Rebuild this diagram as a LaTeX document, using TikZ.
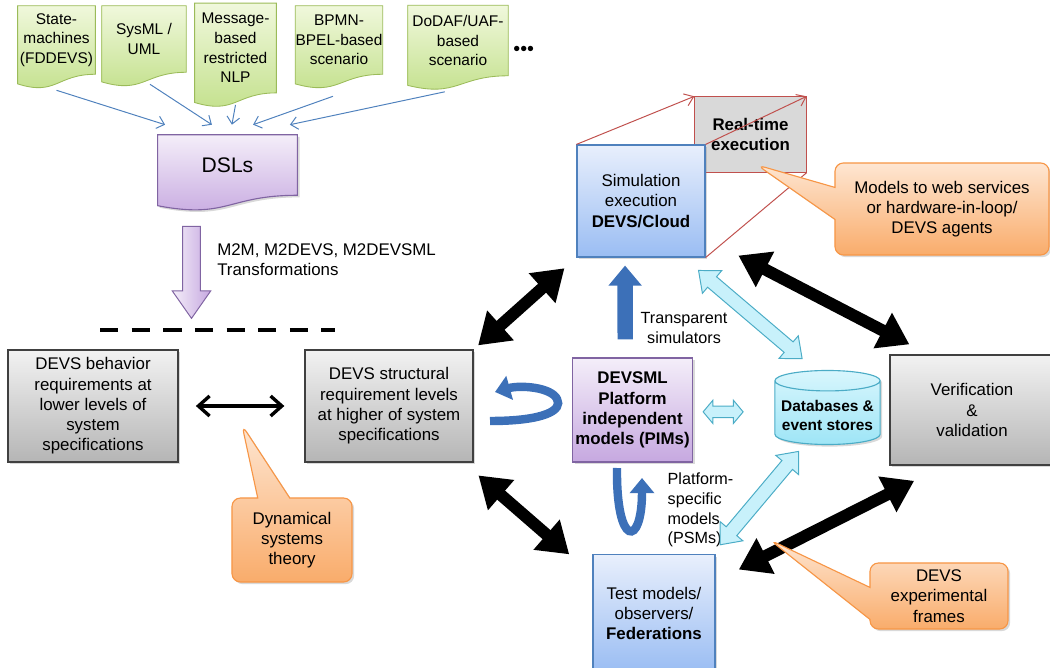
\documentclass[tikz,border=0pt]{standalone}
\usepackage{fontspec}
\setmainfont{Liberation Sans}
\usetikzlibrary{positioning,arrows.meta,shapes.geometric,shapes.arrows,shapes.callouts,shadows,backgrounds}

\definecolor{greenline}{HTML}{9BBB59}
\definecolor{greentop}{HTML}{F0F8DC}
\definecolor{greenbot}{HTML}{C2E08A}
\definecolor{purpleline}{HTML}{8064A2}
\definecolor{purpletop}{HTML}{F4EEF9}
\definecolor{purplebot}{HTML}{C6A8E0}
\definecolor{blueline}{HTML}{4F81BD}
\definecolor{bluetop}{HTML}{E8EFFC}
\definecolor{bluebot}{HTML}{9ABDF3}
\definecolor{greytop}{HTML}{F2F2F2}
\definecolor{greybot}{HTML}{B5B5B5}
\definecolor{rtgrey}{HTML}{D9D9D9}
\definecolor{orangeline}{HTML}{F79646}
\definecolor{orangetop}{HTML}{FEE6D2}
\definecolor{orangebot}{HTML}{F9AC6B}
\definecolor{cyanline}{HTML}{4BACC6}
\definecolor{cyanfill}{HTML}{C8F1FB}
\definecolor{cyantop}{HTML}{D8F6FD}
\definecolor{cyanbot}{HTML}{9EE5F6}
\definecolor{arrowblue}{HTML}{3C70B8}
\definecolor{redline}{HTML}{C0504D}

\tikzset{txt/.style={font=\fontsize{12}{14.4}\selectfont, align=center, inner sep=2pt},
	 smalltxt/.style={font=\fontsize{11.5}{14}\selectfont, align=center, inner sep=1pt},
	 softshadow/.style={drop shadow={opacity=0.3, shadow xshift=1.5pt, shadow yshift=-1.5pt}},
	 docbox/.style={font=\fontsize{11}{14}\selectfont, align=center, inner sep=0pt},
	 greenpage/.style={draw=greenline, line width=0.6pt, top color=greentop, bottom color=greenbot},
	 purplepage/.style={draw=purpleline, line width=0.8pt, top color=purpletop, bottom color=purplebot, softshadow},
	 greybox/.style={txt, draw=black!75, line width=0.9pt, top color=greytop, bottom color=greybot, softshadow},
	 bluebox/.style={txt, draw=blueline, line width=0.8pt, top color=bluetop, bottom color=bluebot, softshadow},
	 pimbox/.style={txt, font=\fontsize{12}{14.4}\selectfont\bfseries, draw=purpleline, line width=0.8pt, top color=purpletop, bottom color=purplebot, softshadow},
	 rtbox/.style={txt, font=\fontsize{12}{14.4}\selectfont\bfseries, draw=redline, line width=0.8pt, fill=rtgrey},
	 store/.style={cylinder, shape border rotate=90, aspect=0.2, draw=cyanline, line width=0.8pt, top color=cyantop, bottom color=cyanbot, align=center, font=\fontsize{11}{13.5}\selectfont\bfseries, softshadow},
	 note/.style={txt, rectangle callout, rounded corners=6pt, draw=orangeline, line width=0.8pt, top color=orangetop, bottom color=orangebot, callout pointer width=0.8cm, softshadow},
	 m2marrow/.style={single arrow, draw=purpleline, line width=0.7pt, left color=purpletop, right color=purplebot, inner sep=0.21cm, outer sep=0pt, minimum width=0.95cm, single arrow head extend=0.26cm, single arrow tip angle=70},
	 exchange/.style={double arrow, draw=cyanline, line width=0.7pt, fill=cyanfill, inner sep=0.16cm, outer sep=0pt, minimum width=0.72cm, double arrow head extend=0.2cm, double arrow tip angle=80},
	 feed/.style={draw=blueline, line width=0.7pt, -{Straight Barb[length=5pt,width=9pt]}},
	 link/.style={line width=8.5pt, {Triangle[width=0.95cm,length=0.75cm]}-{Triangle[width=0.95cm,length=0.75cm]}},
	 pairlink/.style={line width=2.4pt, {Straight Barb[length=0.28cm,width=0.5cm]}-{Straight Barb[length=0.28cm,width=0.5cm]}},
	 perspective/.style={draw=redline, line width=0.7pt},
	 flow/.style={draw=arrowblue, line width=11pt, -{Triangle[width=0.8cm,length=0.5cm]}},
	 swirl/.style={draw=arrowblue, line width=6pt, -{Triangle[width=0.6cm,length=0.38cm]}},
	 barrier/.style={line width=3pt, dash pattern=on 13pt off 9.5pt}
	 }

\begin{document}
\begin{tikzpicture}[x=0.025cm,y=-0.025cm]% MDE flow around DEVSML
	\useasboundingbox (0,0) rectangle (1050,668);
	% source notations and DSLs
	\node[docbox, minimum width=1.93cm, minimum height=1.7cm] (fdd) at (56.5,40) {State-\\machines\\(FDDEVS)};
	\node[docbox, minimum width=2.1cm, minimum height=1.65cm] (sysml) at (144,39) {SysML /\\UML};
	\node[docbox, minimum width=2.03cm, minimum height=2.23cm] (nlp) at (235.5,48) {Message-\\based\\restricted\\NLP};
	\node[docbox, minimum width=2.15cm, minimum height=1.7cm] (bpmn) at (339,40) {BPMN-\\BPEL-based\\scenario};
	\node[docbox, minimum width=2.5cm, minimum height=1.75cm] (dodaf) at (458,40.5) {DoDAF/UAF-\\based\\scenario};
	\node[font=\fontsize{14}{14}\selectfont, inner sep=0pt] (more) [right=0.12cm of dodaf, yshift=-0.25cm] {\textbullet\textbullet\textbullet};
	\node[txt, font=\fontsize{15}{18}\selectfont, minimum width=3.48cm, minimum height=1.5cm, inner sep=0pt] (dsl) at (227.5,165) {DSLs};
	\begin{scope}[on background layer]
		\foreach \n in {fdd,sysml,nlp,bpmn,dodaf}
			\draw[greenpage] (\n.north west) -- (\n.north east) -- (\n.south east)
				.. controls (\n.south) and ([yshift=-0.55cm]\n.south) .. ([yshift=-0.24cm]\n.south west) -- cycle;
		\draw[purplepage] (dsl.north west) -- (dsl.north east) -- (dsl.south east)
			.. controls (dsl.south) and ([yshift=-0.6cm]dsl.south) .. ([yshift=-0.26cm]dsl.south west) -- cycle;
	\end{scope}
	\draw[feed] ([yshift=-0.4cm]fdd.south) -- ([shift={(-1.56cm,0.25cm)}]dsl.north);
	\draw[feed] ([shift={(0.15cm,-0.3cm)}]sysml.south) -- ([shift={(-0.39cm,0.25cm)}]dsl.north);
	\draw[feed] ([yshift=-0.3cm]nlp.south) -- ([shift={(0.11cm,0.25cm)}]dsl.north);
	\draw[feed] ([shift={(-0.15cm,-0.55cm)}]bpmn.south) -- ([shift={(0.64cm,0.25cm)}]dsl.north);
	\draw[feed] ([shift={(-0.33cm,-0.4cm)}]dodaf.south) -- ([shift={(1.56cm,0.25cm)}]dsl.north);
	\node[m2marrow, rotate=-90, minimum height=2.3cm] (m2m) at (191.5,266) {};
	\node[txt, align=left, anchor=west, inner sep=0pt] (m2mlabel) at (217,260) {M2M, M2DEVS, M2DEVSML\\Transformations};
	\draw[barrier] (100,330) -- (335,330);
	% requirement levels
	\node[greybox, minimum width=4.25cm, minimum height=2.8cm] (behav) at (93,406) {DEVS behavior\\requirements at\\lower levels of\\system\\specifications};
	\node[greybox, minimum width=4.2cm, minimum height=2.8cm] (struct) at (389,406) {DEVS structural\\requirement levels\\at higher of system\\specifications};
	\draw[pairlink, shorten <=0.43cm, shorten >=0.5cm] (behav) -- (struct);
	% execution side
	\node[rtbox, minimum width=2.78cm, minimum height=1.88cm] (rt) at (750.5,134.5) {Real-time\\execution};
	\node[bluebox, minimum width=3.2cm, minimum height=2.8cm] (sim) at (641,201) {Simulation\\execution\\\textbf{DEVS/Cloud}};
	\draw[perspective, -{Straight Barb[length=6pt,width=9pt]}] (sim.north west) -- (rt.north west);
	\draw[perspective, -{Straight Barb[length=6pt,width=9pt]}] (sim.north east) -- (rt.north east);
	\draw[perspective] (sim.south east) -- (rt.south east);
	\node[pimbox, minimum width=2.88cm, minimum height=2.6cm] (pim) at (632.5,410) {DEVSML\\Platform\\independent\\models (PIMs)};
	\node[store, minimum width=2.63cm, minimum height=1.85cm] (db) at (827.5,415) {Databases \&\\event stores};
	\node[greybox, minimum width=4.1cm, minimum height=2.75cm] (vv) at (972,410) {Verification\\\&\\validation};
	\node[bluebox, minimum width=3.05cm, minimum height=2.93cm] (fed) at (654,613.5) {Test models/\\observers/\\\textbf{Federations}};
	% transformations around the PIMs
	\draw[flow, shorten <=0.45cm, shorten >=0.2cm] ([xshift=-0.18cm]pim.north) -- ([xshift=-0.4cm]sim.south);
	\node[smalltxt] (transp) at (684,328) {Transparent\\simulators};
	\draw[swirl] (490,421) .. controls (545,421) and (563,410) .. (557,399) .. controls (551,387) and (520,385) .. (495,392);
	\draw[swirl] (617,468) .. controls (616,548) and (642,548) .. (642,478);
	\node[smalltxt, align=left, anchor=west] (psm) at (666,510) {Platform-\\specific\\models\\(PSMs)};
	\path ([shift={(-0.12cm,-0.37cm)}]sim.south east) -- ([shift={(-0.69cm,0.33cm)}]db.north) node[exchange, sloped, midway, minimum height=3.4cm] (simdb) {};
	\path (pim.east) -- (db.west) node[exchange, pos=0.37, minimum height=1.0cm, inner sep=0.13cm, minimum width=0.56cm, double arrow head extend=0.15cm, double arrow tip angle=100] (pimdb) {};
	\path ([shift={(-0.69cm,-0.12cm)}]db.south) -- ([shift={(0.08cm,0.2cm)}]fed.north east) node[exchange, sloped, midway, minimum height=3.05cm] (dbfed) {};
	% round trip links
	\draw[link, shorten <=0.4cm, shorten >=0.15cm] (sim.south west) -- (struct.north east);
	\draw[link] ([shift={(0.82cm,0.05cm)}]sim.south east) -- ([shift={(0.5cm,0.25cm)}]vv.north west);
	\draw[link] ([shift={(0.12cm,-0.32cm)}]struct.south east) -- ([xshift=-0.58cm]fed.north west);
	\draw[link] ([shift={(0.58cm,-0.38cm)}]fed.north east) -- ([shift={(0.62cm,-0.38cm)}]vv.south west);
	% notes
	\node[note, minimum width=5.35cm, minimum height=2.3cm, callout absolute pointer={(757,165)}] (webnote) at (942,209) {Models to web services\\or hardware-in-loop/\\DEVS agents};
	\node[note, minimum width=3cm, minimum height=2.1cm, callout absolute pointer={(242,425)}] (dynnote) at (292,540) {Dynamical\\systems\\theory};
	\node[note, minimum width=3.45cm, minimum height=1.65cm, callout absolute pointer={(770,540)}] (efnote) at (939,596) {DEVS\\experimental\\frames};
\end{tikzpicture}
\end{document}
